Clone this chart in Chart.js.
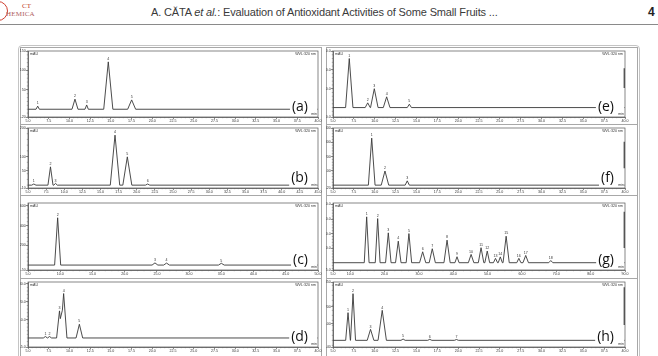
<!DOCTYPE html>
<html>
<head>
<meta charset="utf-8">
<script src="https://cdn.jsdelivr.net/npm/chart.js@4.4.0/dist/chart.umd.min.js"></script>
<style>
  body { margin: 0; width: 658px; height: 356px; overflow: hidden; background: #fff; position: relative; }
  .head { position: absolute; top: 6px; left: 151px; font: 11px "Liberation Sans", sans-serif; letter-spacing: -0.15px; color: #3a3a3a; white-space: nowrap; }
  .pageno { position: absolute; top: 5px; left: 648px; font: bold 12px "Liberation Sans", sans-serif; color: #222; }
  .rule { position: absolute; top: 24px; left: 0; width: 658px; height: 0; border-top: 1.5px solid #8a8a8a; }
  .logo1 { position: absolute; top: 2px; left: 22px; font: 7px "Liberation Serif", serif; color: #c0392b; }
  .logo2 { position: absolute; top: 10px; left: 6px; font: 7px "Liberation Serif", serif; color: #b06060; letter-spacing: 0.2px; }
  .arc { position: absolute; top: 1px; left: -12px; width: 18px; height: 18px; border: 1.5px solid #d04030; border-radius: 50%; }
  .frame { position: absolute; left: 18px; top: 45px; width: 622px; height: 320px; border: 1px solid #c4c4c4; border-radius: 4px; box-sizing: border-box; }
  .panel { position: absolute; border: 1px solid #a8a8a8; box-sizing: border-box; }
  canvas { position: absolute; }
</style>
</head>
<body>
<div class="arc"></div>
<div class="logo1">CT</div>
<div class="logo2">HEMICA</div>
<div class="head">A. CĂTA <i>et al.</i>: Evaluation of Antioxidant Activities of Some Small Fruits ...</div>
<div class="pageno">4</div>
<div class="rule"></div>
<div class="frame"></div>
<div id="wrap"></div>
<script>
// peak tables: retention time (min), height (mAU), half base width (min)
const aTimes = [6.17, 10.67, 12.08, 14.69, 17.51];
const aHeights = [8, 26, 11, 122, 24];
const aWidths = [0.2, 0.36, 0.2, 0.55, 0.48];
const aNames = ['1', '2', '3', '4', '5'];
const aXLabels = ['5.0', '7.5', '10.0', '12.5', '15.0', '17.5', '20.0', '22.5', '25.0', '27.5', '30.0', '32.5', '35.0', '37.5', '40.0'];
const aYLabels = ['150', '100', '50', '-20'];
const aYRange = [-20, 150];

const bTimes = [5.8, 8.1, 8.8, 17.0, 18.7, 21.5];
const bHeights = [4, 64, 6, 175, 99, 4];
const bWidths = [0.3, 0.35, 0.25, 0.65, 0.62, 0.3];
const bNames = ['1', '2', '3', '4', '5', '6'];
const bXLabels = ['5.0', '7.5', '10.0', '12.5', '15.0', '17.5', '20.0', '22.5', '25.0', '27.5', '30.0', '32.5', '35.0', '37.5', '40.0', '42.5', '45.0'];
const bYLabels = ['200', '100', '50', '-10'];
const bYRange = [-10, 200];

const cTimes = [9.6, 24.7, 26.5, 35.0];
const cHeights = [480, 22, 20, 18];
const cWidths = [0.47, 0.45, 0.45, 0.45];
const cNames = ['2', '3', '4', '5'];
const cXLabels = ['5.0', '10.0', '15.0', '20.0', '25.0', '30.0', '35.0', '40.0', '45.0', '50.0'];
const cYLabels = ['600', '400', '200', '-50'];
const cYRange = [-50, 630];

const dTimes = [7.1, 7.6, 8.8, 9.3, 11.2];
const dHeights = [0.8, 0.8, 15, 24.6, 7.6];
const dWidths = [0.25, 0.25, 0.35, 0.4, 0.4];
const dNames = ['1', '2', '3', '4', '5'];
const dXLabels = ['5.0', '7.5', '10.0', '12.5', '15.0', '17.5', '20.0', '22.5', '25.0', '27.5', '30.0', '32.5', '35.0', '37.5', '40.0'];
const dYLabels = ['30.0', '20.0', '10.0', '-5.0'];
const dYRange = [-5, 31];

const eTimes = [6.95, 9.16, 9.95, 11.43, 14.15];
const eHeights = [52, 5, 20, 11.4, 3.6];
const eWidths = [0.44, 0.3, 0.45, 0.4, 0.25];
const eNames = ['1', '2', '3', '4', '5'];
const eXLabels = ['5.0', '7.5', '10.0', '12.5', '15.0', '17.5', '20.0', '22.5', '25.0', '27.5', '30.0', '32.5', '35.0', '37.5', '40.0'];
const eYLabels = ['60.0', '40.0', '20.0', '-10.0'];
const eYRange = [-10, 60];

const fTimes = [9.64, 11.23, 13.9];
const fHeights = [329, 99, 30];
const fWidths = [0.4, 0.45, 0.25];
const fNames = ['1', '2', '3'];
const fXLabels = ['5.0', '7.5', '10.0', '12.5', '15.0', '17.5', '20.0', '22.5', '25.0', '27.5', '30.0', '32.5', '35.0', '37.5', '40.0'];
const fYLabels = ['400', '300', '200', '100', '-20'];
const fYRange = [-20, 400];

const gTimes = [14.8, 18.0, 21.1, 24.0, 27.1, 31.1, 33.9, 38.2, 41.1, 45.2, 48.1, 49.9, 52.3, 53.7, 55.4, 59.1, 61.1, 68.4];
const gHeights = [31.5, 30.3, 20.5, 14.8, 20, 7.5, 9.6, 15.5, 4.1, 5.7, 10.3, 8, 3, 4, 18.2, 3, 5, 1.5];
const gWidths = [0.7, 0.7, 0.8, 0.8, 0.8, 0.9, 0.9, 0.9, 0.6, 0.8, 0.8, 0.7, 0.6, 0.6, 0.9, 0.6, 0.8, 0.6];
const gNames = ['1', '2', '3', '4', '5', '6', '7', '8', '9', '10', '11', '12', '13', '14', '15', '16', '17', '18'];
const gXLabels = ['5.0', '10.0', '20.0', '30.0', '40.0', '50.0', '60.0', '70.0', '80.0', '90.0'];
const gYLabels = ['40.0', '30.0', '20.0', '10.0', '-5.0'];
const gYRange = [-5, 41];

const hTimes = [6.8, 7.4, 9.5, 10.9, 13.4, 16.6, 19.8];
const hHeights = [166, 280, 66, 180, 8, 6, 5];
const hWidths = [0.28, 0.3, 0.4, 0.5, 0.25, 0.25, 0.25];
const hNames = ['1', '2', '3', '4', '5', '6', '7'];
const hXLabels = ['5.0', '7.5', '10.0', '12.5', '15.0', '17.5', '20.0', '22.5', '25.0', '27.5', '30.0', '32.5', '35.0', '37.5', '40.0'];
const hYLabels = ['350', '200', '100', '-40'];
const hYRange = [-40, 350];

Chart.defaults.font.family = '"Liberation Sans", Arial, sans-serif';

// layout of the 2 x 4 grid
const cols = [
  { left: 20, width: 302, yw: 8, pr: 4, tag: 10 },
  { left: 326, width: 312, yw: 7, pr: 13, tag: 11 }
];
const rows = [
  { top: 47, height: 77, pt: 4, pb: 1 },
  { top: 124, height: 71, pt: 4, pb: 1 },
  { top: 195, height: 83, pt: 8, pb: 2 },
  { top: 278, height: 78, pt: 4, pb: 3 }
];

const panels = [
  { tag: '(a)', col: 0, row: 0, t: aTimes, h: aHeights, w: aWidths, n: aNames, xl: aXLabels, yl: aYLabels, yr: aYRange, minor: 0.5 },
  { tag: '(b)', col: 0, row: 1, t: bTimes, h: bHeights, w: bWidths, n: bNames, xl: bXLabels, yl: bYLabels, yr: bYRange, minor: 0.5 },
  { tag: '(c)', col: 0, row: 2, t: cTimes, h: cHeights, w: cWidths, n: cNames, xl: cXLabels, yl: cYLabels, yr: cYRange, minor: 1 },
  { tag: '(d)', col: 0, row: 3, t: dTimes, h: dHeights, w: dWidths, n: dNames, xl: dXLabels, yl: dYLabels, yr: dYRange, minor: 0.5 },
  { tag: '(e)', col: 1, row: 0, t: eTimes, h: eHeights, w: eWidths, n: eNames, xl: eXLabels, yl: eYLabels, yr: eYRange, minor: 0.5, mark: [0.26, 0.56] },
  { tag: '(f)', col: 1, row: 1, t: fTimes, h: fHeights, w: fWidths, n: fNames, xl: fXLabels, yl: fYLabels, yr: fYRange, minor: 0.5, mark: [0.23, 0.67] },
  { tag: '(g)', col: 1, row: 2, t: gTimes, h: gHeights, w: gWidths, n: gNames, xl: gXLabels, yl: gYLabels, yr: gYRange, minor: 2, mark: [0.13, 0.67] },
  { tag: '(h)', col: 1, row: 3, t: hTimes, h: hHeights, w: hWidths, n: hNames, xl: hXLabels, yl: hYLabels, yr: hYRange, minor: 0.5, mark: [0.08, 0.66] }
];

// vertices of the trace: baseline - apex - baseline for every peak, overlapping peaks add up
function trace(xMin, xMax, times, heights, widths) {
  let xs = [xMin, xMax];
  times.forEach((t, i) => { xs.push(t - widths[i], t, t + widths[i]); });
  xs.sort((p, q) => p - q);
  return xs.map(x => {
    let y = 0;
    times.forEach((t, i) => {
      y += Math.max(0, heights[i] * (1 - Math.abs(x - t) / widths[i]));
    });
    return { x: x, y: y };
  });
}

function decor(p, tagOff) {
  return {
    id: 'decor',
    afterDatasetsDraw(chart) {
      const ctx = chart.ctx;
      const a = chart.chartArea;
      const xs = chart.scales.x;
      const ys = chart.scales.y;
      ctx.save();

      // panel letter on a white patch that hides the end of the run
      ctx.font = '14px "Open Sans", sans-serif';
      const tw = ctx.measureText(p.tag).width;
      ctx.fillStyle = '#fff';
      ctx.fillRect(a.right - tagOff - tw - 2, a.bottom - 18, tw + tagOff + 1.5, 17);
      ctx.fillStyle = '#111';
      ctx.textAlign = 'right';
      ctx.textBaseline = 'middle';
      ctx.fillText(p.tag, a.right - tagOff, a.bottom - 9.5);

      // plot box
      ctx.strokeStyle = '#555';
      ctx.lineWidth = 0.7;
      ctx.strokeRect(a.left, a.top, a.right - a.left, a.bottom - a.top);

      // minor ticks
      ctx.beginPath();
      const x0 = Number(p.xl[0]), x1 = Number(p.xl[p.xl.length - 1]);
      for (let v = x0; v <= x1 + 1e-6; v += p.minor) {
        const px = xs.getPixelForValue(v);
        ctx.moveTo(px, a.bottom);
        ctx.lineTo(px, a.bottom + 1.2);
      }
      const yStep = (Number(p.yl[0]) - Number(p.yl[1])) / 5;
      for (let v = 0; v <= p.yr[1]; v += yStep) {
        const py = ys.getPixelForValue(v);
        ctx.moveTo(a.left, py);
        ctx.lineTo(a.left - 1.2, py);
      }
      for (let v = -yStep; v >= p.yr[0]; v -= yStep) {
        const py = ys.getPixelForValue(v);
        ctx.moveTo(a.left, py);
        ctx.lineTo(a.left - 1.2, py);
      }
      ctx.strokeStyle = '#666';
      ctx.lineWidth = 0.5;
      ctx.stroke();

      // peak numbers
      ctx.fillStyle = '#333';
      ctx.font = '3.6px "Liberation Sans", sans-serif';
      ctx.textAlign = 'center';
      ctx.textBaseline = 'bottom';
      p.t.forEach((t, i) => {
        ctx.fillText(p.n[i], xs.getPixelForValue(t), ys.getPixelForValue(p.h[i]) - 1);
      });

      // instrument captions
      ctx.textBaseline = 'top';
      ctx.textAlign = 'left';
      ctx.fillText('mAU', a.left + 2, a.top + 1);
      ctx.textAlign = 'right';
      ctx.fillText('WVL:320 nm', a.right - 2, a.top + 1);
      ctx.textBaseline = 'bottom';
      ctx.fillText('min', a.right - 1, a.bottom - 0.8);

      if (p.mark) {
        ctx.strokeStyle = '#555';
        ctx.lineWidth = 1.4;
        ctx.beginPath();
        ctx.moveTo(a.right - 0.7, a.top + p.mark[0] * (a.bottom - a.top));
        ctx.lineTo(a.right - 0.7, a.top + p.mark[1] * (a.bottom - a.top));
        ctx.stroke();
      }
      ctx.restore();
    }
  };
}

const wrap = document.getElementById('wrap');
panels.forEach(p => {
  const c = cols[p.col];
  const r = rows[p.row];
  const box = document.createElement('div');
  box.className = 'panel';
  box.style.left = c.left + 'px';
  box.style.top = r.top + 'px';
  box.style.width = c.width + 'px';
  box.style.height = (r.height + 1) + 'px';
  wrap.appendChild(box);

  const cv = document.createElement('canvas');
  cv.width = c.width;
  cv.height = r.height;
  cv.style.left = c.left + 'px';
  cv.style.top = r.top + 'px';
  wrap.appendChild(cv);

  const xMin = Number(p.xl[0]);
  const xMax = Number(p.xl[p.xl.length - 1]);
  const xVals = p.xl.map(Number);
  const yVals = p.yl.map(Number).sort((q, s) => q - s);

  new Chart(cv, {
    type: 'line',
    data: {
      datasets: [{
        data: trace(xMin, xMax, p.t, p.h, p.w),
        borderColor: '#383838',
        borderWidth: 0.9,
        pointRadius: 0,
        tension: 0
      }]
    },
    options: {
      responsive: false,
      animation: false,
      events: [],
      layout: { padding: { left: 0, right: c.pr, top: r.pt, bottom: r.pb } },
      plugins: { legend: { display: false }, tooltip: { enabled: false } },
      scales: {
        x: {
          type: 'linear',
          min: xMin,
          max: xMax,
          afterBuildTicks: s => { s.ticks = xVals.map(v => ({ value: v })); },
          afterFit: s => { s.height = 6; },
          ticks: {
            autoSkip: false, maxRotation: 0, minRotation: 0, padding: 0.3,
            color: '#333', font: { size: 3.6 },
            callback: v => p.xl.find(l => Number(l) === v)
          },
          grid: { drawOnChartArea: false, tickLength: 2, color: '#444', lineWidth: 0.6 },
          border: { color: '#444', width: 0.7 }
        },
        y: {
          type: 'linear',
          min: p.yr[0],
          max: p.yr[1],
          afterBuildTicks: s => { s.ticks = yVals.map(v => ({ value: v })); },
          afterFit: s => { s.width = c.yw; },
          ticks: {
            autoSkip: false, padding: 0.3,
            color: '#333', font: { size: 3.6 },
            callback: v => p.yl.find(l => Number(l) === v)
          },
          grid: { drawOnChartArea: false, tickLength: 2, color: '#444', lineWidth: 0.6 },
          border: { color: '#444', width: 0.7 }
        }
      }
    },
    plugins: [decor(p, c.tag)]
  });
});
</script>
</body>
</html>
